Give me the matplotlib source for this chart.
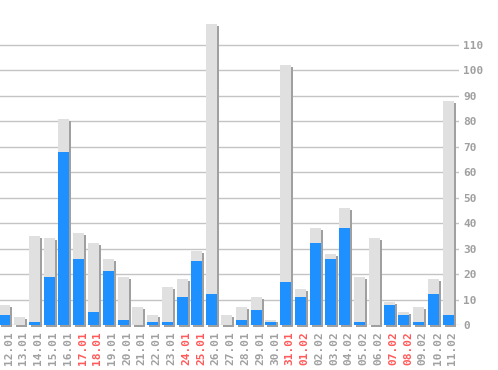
import matplotlib
matplotlib.use("Agg")
import matplotlib.pyplot as plt
from matplotlib.transforms import ScaledTranslation

dates = ["12.01", "13.01", "14.01", "15.01", "16.01", "17.01", "18.01", "19.01",
         "20.01", "21.01", "22.01", "23.01", "24.01", "25.01", "26.01", "27.01",
         "28.01", "29.01", "30.01", "31.01", "01.02", "02.02", "03.02", "04.02",
         "05.02", "06.02", "07.02", "08.02", "09.02", "10.02", "11.02"]
totals = [8, 3, 35, 34, 81, 36, 32, 26, 19, 7, 4, 15, 18, 29, 118, 4,
          7, 11, 2, 102, 14, 38, 28, 46, 19, 34, 9, 5, 7, 18, 88]
part = [4, 0, 1, 19, 68, 26, 5, 21, 2, 0, 1, 1, 11, 25, 12, 0,
        2, 6, 1, 17, 11, 32, 26, 38, 1, 0, 8, 4, 1, 12, 4]
weekend = ["17.01", "18.01", "24.01", "25.01", "31.01", "01.02", "07.02", "08.02"]
yticks = list(range(0, 111, 10))

W, H, DPI = 498, 370, 100
fig = plt.figure(figsize=(W / DPI, H / DPI), dpi=DPI)
fig.patch.set_facecolor("white")
ax = fig.add_axes([0, 45 / H, 459 / W, 325 / H])
ax.set_facecolor("white")

x = list(range(len(dates)))
bw = 0.744
shadow = ScaledTranslation(2 / DPI, -2 / DPI, fig.dpi_scale_trans)

sb = ax.bar(x, totals, width=bw, color="#a0a0a0", zorder=2, clip_on=False)
for r in sb:
    r.set_transform(ax.transData + shadow)
ax.bar(x, totals, width=bw, color="#e0e0e0", zorder=3)
ax.bar(x, part, width=bw, color="#1e90ff", zorder=4)

ax.set_xlim(-0.318, 30.72)
ax.set_ylim(0, 127.5)

for s in ax.spines.values():
    s.set_visible(False)

ax.yaxis.tick_right()
ax.set_yticks(yticks)
ax.set_yticklabels([str(v) for v in yticks])
ax.grid(axis="y", color="#c4c4c4", linewidth=1)
ax.set_axisbelow(True)
ax.tick_params(axis="y", length=0, pad=3, labelsize=8, labelcolor="#a0a0a0")

ax.set_xticks([i + 0.27 for i in x])
ax.set_xticklabels(dates, rotation=90, va="top", ha="center")
ax.tick_params(axis="x", length=0, pad=4.5, labelsize=8)
for lab in ax.get_xticklabels():
    lab.set_color("#ff5a5a" if lab.get_text() in weekend else "#a0a0a0")

for lab in ax.get_xticklabels() + ax.get_yticklabels():
    lab.set_family("DejaVu Sans Mono")
    lab.set_fontweight("bold")

fig.savefig("out.png", dpi=DPI, facecolor="white")
